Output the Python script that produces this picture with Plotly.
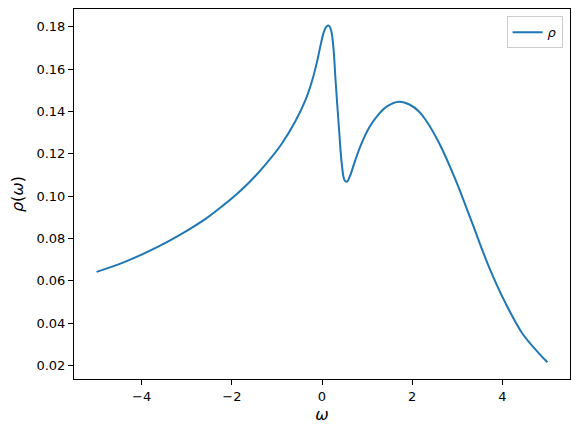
import plotly.graph_objects as go

# values
omega = [-5.0, -4.4, -3.7, -3.0, -2.6, -2.2, -1.9, -1.6, -1.25, -0.9, -0.6,
         -0.36, -0.21, -0.1, -0.03, 0.04, 0.1, 0.15, 0.2, 0.25, 0.3, 0.38,
         0.44, 0.5, 0.55, 0.62, 0.72, 0.85, 1.05, 1.25, 1.45, 1.7, 1.95, 2.15,
         2.3, 2.6, 2.96, 3.33, 3.7, 4.07, 4.44, 4.81, 5.0]
rho = [0.0642, 0.0687, 0.0754, 0.0836, 0.0890, 0.0955, 0.1008, 0.1068, 0.1150,
       0.1245, 0.1350, 0.1457, 0.1552, 0.1645, 0.1715, 0.1775, 0.1802, 0.1806,
       0.1785, 0.1710, 0.1550, 0.1310, 0.1150, 0.1075, 0.1068, 0.1095, 0.1158,
       0.1235, 0.1325, 0.1385, 0.1425, 0.1446, 0.1432, 0.1400, 0.1360, 0.1250,
       0.1078, 0.0873, 0.0667, 0.0494, 0.0352, 0.0257, 0.0215]

fig = go.Figure()
fig.add_trace(go.Scatter(
    x=omega, y=rho, mode="lines", name="<i>ρ</i>",
    line=dict(color="#1f77b4", width=2, shape="spline", smoothing=1.0),
))

axis_style = dict(
    showline=True, mirror=True, linecolor="black", linewidth=1,
    showgrid=False, zeroline=False,
    ticks="outside", ticklen=5, tickcolor="black",
    tickfont=dict(size=13, color="black"),
)

# the page body adds an 8px offset, so the margins are shifted by that
fig.update_layout(
    width=580, height=432,
    margin=dict(l=66, r=18, t=1, b=61),
    paper_bgcolor="white", plot_bgcolor="white",
    font=dict(family="DejaVu Sans", size=13, color="black"),
    xaxis=dict(range=[-5.5, 5.5], dtick=2, tick0=0,
               title=dict(text="<i>ω</i>", standoff=6), **axis_style),
    yaxis=dict(range=[0.01355, 0.18845], dtick=0.02, tick0=0.02, tickformat=".2f",
               title=dict(text="<i>ρ</i>(<i>ω</i>)", standoff=8), **axis_style),
    showlegend=True,
    legend=dict(x=0.985, y=0.98, xanchor="right", yanchor="top",
                bordercolor="#cccccc", borderwidth=1, bgcolor="white",
                font=dict(size=13)),
)

fig.write_html("out.html")
